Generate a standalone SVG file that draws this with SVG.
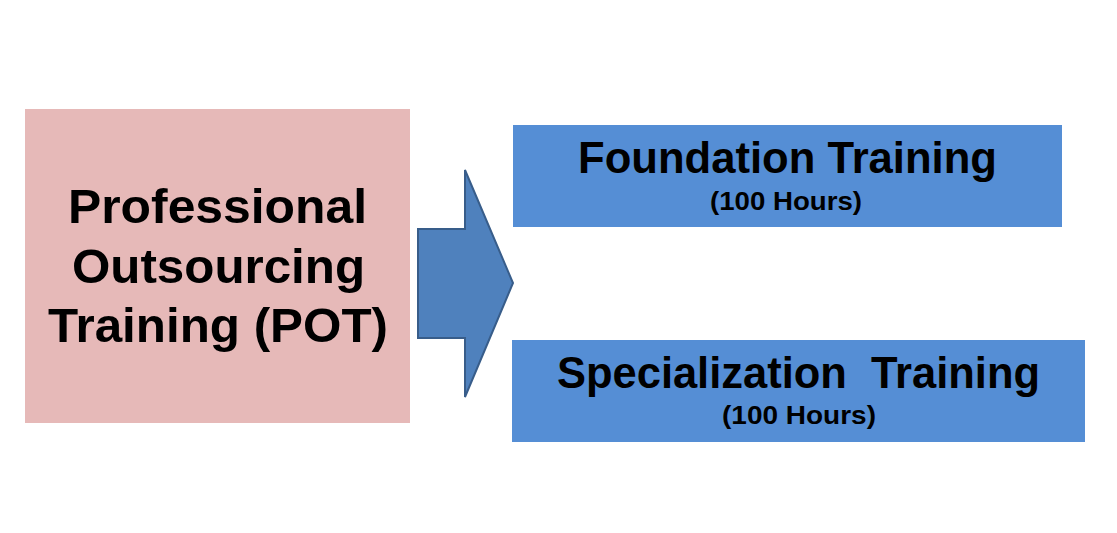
<svg xmlns="http://www.w3.org/2000/svg" width="1117" height="533" viewBox="0 0 1117 533">
<style>
text{font-family:"Liberation Sans",Arial,sans-serif;font-weight:bold;fill:#000;text-anchor:middle}
.big{font-size:48px}
.t{font-size:45px}
.s{font-size:26px}
.blue{fill:#558ED5}
</style>
<rect width="1117" height="533" fill="#fff"/>
<g id="pot">
<rect x="25" y="109" width="385" height="314" fill="#E6B9B8"/>
<text class="big" x="217.5" y="223" textLength="299" lengthAdjust="spacingAndGlyphs">Professional</text>
<text class="big" x="218.5" y="283" textLength="293" lengthAdjust="spacingAndGlyphs">Outsourcing</text>
<text class="big" x="218" y="342" textLength="340" lengthAdjust="spacingAndGlyphs">Training (POT)</text>
</g>
<g id="connectors">
<path d="M418,229 H465 V170 L513,283 L465,397 V338 H418 Z" fill="#4F81BD" stroke="#385D8A" stroke-width="2"/>
</g>
<g id="foundation">
<rect class="blue" x="513" y="125" width="549" height="102"/>
<text class="t" x="787.5" y="173" textLength="419" lengthAdjust="spacingAndGlyphs">Foundation Training</text>
<text class="s" x="786" y="210" textLength="152" lengthAdjust="spacingAndGlyphs">(100 Hours)</text>
</g>
<g id="specialization">
<rect class="blue" x="512" y="340" width="573" height="102"/>
<text class="t" x="798.5" y="388" textLength="483" lengthAdjust="spacingAndGlyphs" xml:space="preserve">Specialization  Training</text>
<text class="s" x="799" y="424" textLength="154" lengthAdjust="spacingAndGlyphs">(100 Hours)</text>
</g>
</svg>
